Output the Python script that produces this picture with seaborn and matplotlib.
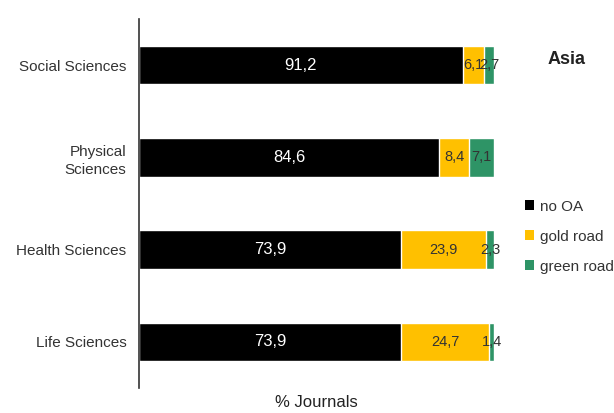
import seaborn as sns
import matplotlib.pyplot as plt
import pandas as pd
import numpy as np
from matplotlib.patches import Patch

# Share of journals per access route (Asia)
fields = ['Social Sciences', 'Physical\nSciences', 'Health Sciences', 'Life Sciences']
no_oa = [91.2, 84.6, 73.9, 73.9]
gold_road = [6.1, 8.4, 23.9, 24.7]
green_road = [2.7, 7.1, 2.3, 1.4]

series_names = ['no OA', 'gold road', 'green road']
colors = ['#000000', '#FFC000', '#2E9466']
text_colors = ['white', '#333333', '#333333']
text_sizes = [12, 10.5, 10.5]

df = pd.DataFrame({'field': fields, 'no OA': no_oa,
                   'gold road': gold_road, 'green road': green_road})
cum = df[series_names].cumsum(axis=1)

sns.set_style("white")
plt.rcParams['font.family'] = ['Liberation Sans', 'DejaVu Sans']

fig = plt.figure(figsize=(6.14, 4.13), dpi=100)
ax = fig.add_axes([0.226, 0.0605, 0.5786, 0.8935])

# stacked bars: draw cumulative totals from back to front
for name, color in reversed(list(zip(series_names, colors))):
    sns.barplot(x=cum[name], y=df['field'], color=color, orient='h',
                width=0.42, saturation=1, ax=ax)

# value labels centred in each segment
for i in range(len(fields)):
    left = 0
    for name, tc, fs in zip(series_names, text_colors, text_sizes):
        v = df[name].iloc[i]
        ax.text(left + v / 2, i, f"{v:.1f}".replace('.', ','),
                ha='center', va='center', color=tc, fontsize=fs)
        left += v

ax.set_xlim(0, 100)
ax.set_ylim(3.5, -0.5)
ax.set_xticks([])
ax.set_ylabel('')
ax.set_xlabel('% Journals', fontsize=12, color='#222222', labelpad=5)
ax.tick_params(axis='y', length=0, labelsize=11, labelcolor='#333333', pad=9)
for lbl in ax.get_yticklabels():
    lbl.set_multialignment('right')
    lbl.set_linespacing(1.4)
for side in ['top', 'right', 'bottom']:
    ax.spines[side].set_visible(False)
ax.spines['left'].set_color('#333333')
ax.spines['left'].set_linewidth(1.2)

handles = [Patch(facecolor=c, edgecolor='none', label=n)
           for n, c in zip(series_names, colors)]
fig.legend(handles=handles, loc='upper left', bbox_to_anchor=(0.833, 0.55),
           frameon=False, fontsize=11, handlelength=0.6, handleheight=0.6,
           handletextpad=0.4, labelspacing=1.05, labelcolor='#333333')

fig.text(0.923, 0.855, 'Asia', ha='center', va='center',
         fontsize=13, fontweight='bold', color='#222222')

plt.savefig('out.png', dpi=100, facecolor='white')
